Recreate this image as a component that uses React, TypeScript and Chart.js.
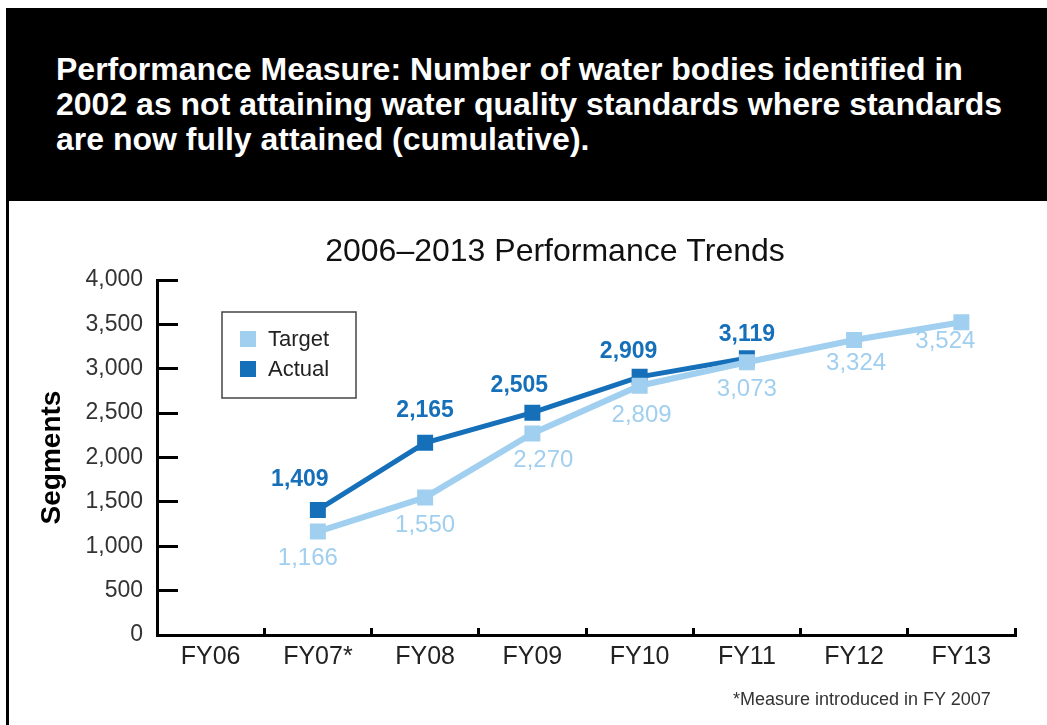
import React, { useEffect, useRef } from "react";
import { Chart, registerables } from "chart.js";

Chart.register(...registerables);

// ---------- data ----------
const categories = ["FY06", "FY07*", "FY08", "FY09", "FY10", "FY11", "FY12", "FY13"];
const targetValues = [null, 1166, 1550, 2270, 2809, 3073, 3324, 3524];
const actualValues = [null, 1409, 2165, 2505, 2909, 3119, null, null];
const seriesLabels = ["Target", "Actual"];
const yMin = 0;
const yMax = 4000;
const yStep = 500;

const headerLines = [
  "Performance Measure: Number of water bodies identified in",
  "2002 as not attaining water quality standards where standards",
  "are now fully attained (cumulative).",
];
const chartTitle = "2006\u20132013 Performance Trends";
const yAxisTitle = "Segments";
const footnote = "*Measure introduced in FY 2007";

// ---------- styles ----------
const FONT = '"Liberation Sans", Arial, Helvetica, sans-serif';
const TARGET_COLOR = "#a0cfef";
const ACTUAL_COLOR = "#1570b9";

// value-label offsets relative to each point (styling only)
const targetLabelDx = [0, -10, 0, 11, 2, 0, 2, -16];
const targetLabelDy = [0, 27, 28, 27, 30, 27, 23, 19];
const actualLabelDx = [0, -18, 0, -13, -11, 0, 0, 0];
const actualLabelDy = [0, -30, -32, -27, -25, -24, 0, 0];

const labelStyles = [
  { font: `normal 24px ${FONT}`, color: TARGET_COLOR, dx: targetLabelDx, dy: targetLabelDy },
  { font: `bold 23px ${FONT}`, color: ACTUAL_COLOR, dx: actualLabelDx, dy: actualLabelDy },
];

const valueLabelsPlugin = {
  id: "valueLabels",
  afterDatasetsDraw(chart: any) {
    const ctx = chart.ctx;
    chart.data.datasets.forEach((ds: any, di: number) => {
      const meta = chart.getDatasetMeta(di);
      const st = labelStyles[di];
      meta.data.forEach((pt: any, i: number) => {
        const v = ds.data[i];
        if (v === null || v === undefined) return;
        ctx.save();
        ctx.font = st.font;
        ctx.fillStyle = st.color;
        ctx.textAlign = "center";
        ctx.textBaseline = "middle";
        ctx.fillText(Number(v).toLocaleString("en-US"), pt.x + st.dx[i], pt.y + st.dy[i]);
        ctx.restore();
      });
    });
  },
};

const chartTitlePlugin = {
  id: "chartTitleText",
  afterDraw(chart: any) {
    const { ctx, chartArea } = chart;
    ctx.save();
    ctx.font = `normal 32px ${FONT}`;
    ctx.fillStyle = "#111";
    ctx.textAlign = "center";
    ctx.textBaseline = "middle";
    ctx.fillText(chartTitle, chartArea.left + 398, chartArea.top - 28);
    ctx.restore();
  },
};

const legendBoxPlugin = {
  id: "legendBox",
  afterDraw(chart: any) {
    const { ctx, chartArea } = chart;
    const x = chartArea.left + 65;
    const y = chartArea.top + 32;
    const w = 134;
    const h = 86;
    ctx.save();
    ctx.strokeStyle = "#444";
    ctx.lineWidth = 1.5;
    ctx.strokeRect(x, y, w, h);
    chart.data.datasets.forEach((ds: any, i: number) => {
      const cy = y + 27 + i * 30;
      ctx.fillStyle = ds.borderColor;
      ctx.fillRect(x + 18, cy - 8, 16, 16);
      ctx.fillStyle = "#222";
      ctx.font = `normal 22px ${FONT}`;
      ctx.textAlign = "left";
      ctx.textBaseline = "middle";
      ctx.fillText(ds.label, x + 46, cy + 1);
    });
    ctx.restore();
  },
};

function PerformanceChart() {
  const canvasRef = useRef<HTMLCanvasElement | null>(null);

  useEffect(() => {
    if (!canvasRef.current) return;
    Chart.defaults.font.family = FONT;
    const chart = new Chart(canvasRef.current, {
      type: "line",
      data: {
        labels: categories,
        datasets: [
          {
            label: seriesLabels[0],
            data: targetValues,
            borderColor: TARGET_COLOR,
            backgroundColor: TARGET_COLOR,
            borderWidth: 6,
            pointStyle: "rect",
            pointRadius: 11.3,
            pointBorderWidth: 0,
            pointBackgroundColor: TARGET_COLOR,
            tension: 0,
          },
          {
            label: seriesLabels[1],
            data: actualValues,
            borderColor: ACTUAL_COLOR,
            backgroundColor: ACTUAL_COLOR,
            borderWidth: 5,
            pointStyle: "rect",
            pointRadius: 11.3,
            pointBorderWidth: 0,
            pointBackgroundColor: ACTUAL_COLOR,
            tension: 0,
          },
        ],
      },
      options: {
        responsive: false,
        animation: false,
        devicePixelRatio: 1,
        layout: { padding: { left: 0, right: 32, top: 80, bottom: 40 } },
        plugins: {
          legend: { display: false },
          tooltip: { enabled: false },
          title: { display: false },
        },
        scales: {
          x: {
            type: "category",
            offset: true,
            grid: {
              display: true,
              offset: true,
              drawOnChartArea: false,
              drawTicks: true,
              tickLength: -7,
              color: "#000",
              tickColor: "#000",
              tickWidth: 3,
              lineWidth: 3,
            },
            border: { display: true, color: "#000", width: 3 },
            ticks: {
              color: "#222",
              font: { size: 25 },
              padding: 14,
              maxRotation: 0,
              autoSkip: false,
            },
            afterFit: (s: any) => {
              s.height = 50;
            },
          },
          y: {
            min: yMin,
            max: yMax,
            ticks: {
              stepSize: yStep,
              color: "#333",
              font: { size: 23 },
              padding: 35,
              callback: (v: any) => Number(v).toLocaleString("en-US"),
            },
            grid: {
              display: true,
              drawOnChartArea: false,
              drawTicks: true,
              tickLength: -21,
              color: "#000",
              tickColor: "#000",
              tickWidth: 3,
              lineWidth: 3,
            },
            border: { display: true, color: "#000", width: 3 },
            title: {
              display: true,
              text: yAxisTitle,
              color: "#000",
              font: { size: 28, weight: "bold" },
              padding: { top: 35, bottom: 0 },
            },
            afterFit: (s: any) => {
              s.width = 157;
            },
          },
        },
      },
      plugins: [valueLabelsPlugin, legendBoxPlugin, chartTitlePlugin],
    } as any);
    return () => chart.destroy();
  }, []);

  return (
    <canvas
      ref={canvasRef}
      width={1047}
      height={525}
      style={{ position: "absolute", left: 0, top: 200, width: 1047, height: 525, display: "block" }}
    />
  );
}

export default function App() {
  return (
    <div
      style={{
        position: "fixed",
        left: 0,
        top: 0,
        width: 1047,
        height: 725,
        background: "#fff",
        overflow: "hidden",
        fontFamily: FONT,
      }}
    >
      <div style={{ position: "absolute", left: 6, top: 8, width: 1041, height: 193, background: "#000" }} />
      <div
        style={{
          position: "absolute",
          left: 56,
          top: 52,
          color: "#fff",
          fontWeight: "bold",
          fontSize: 32,
          lineHeight: "35px",
          whiteSpace: "nowrap",
        }}
      >
        {headerLines.map((l, i) => (
          <div key={i}>{l}</div>
        ))}
      </div>
      <PerformanceChart />
      <div style={{ position: "absolute", left: 6, top: 200, width: 3, height: 525, background: "#000" }} />
      <div
        style={{
          position: "absolute",
          left: 733,
          top: 689,
          fontSize: 18,
          lineHeight: "20px",
          color: "#333",
          whiteSpace: "nowrap",
        }}
      >
        {footnote}
      </div>
    </div>
  );
}
